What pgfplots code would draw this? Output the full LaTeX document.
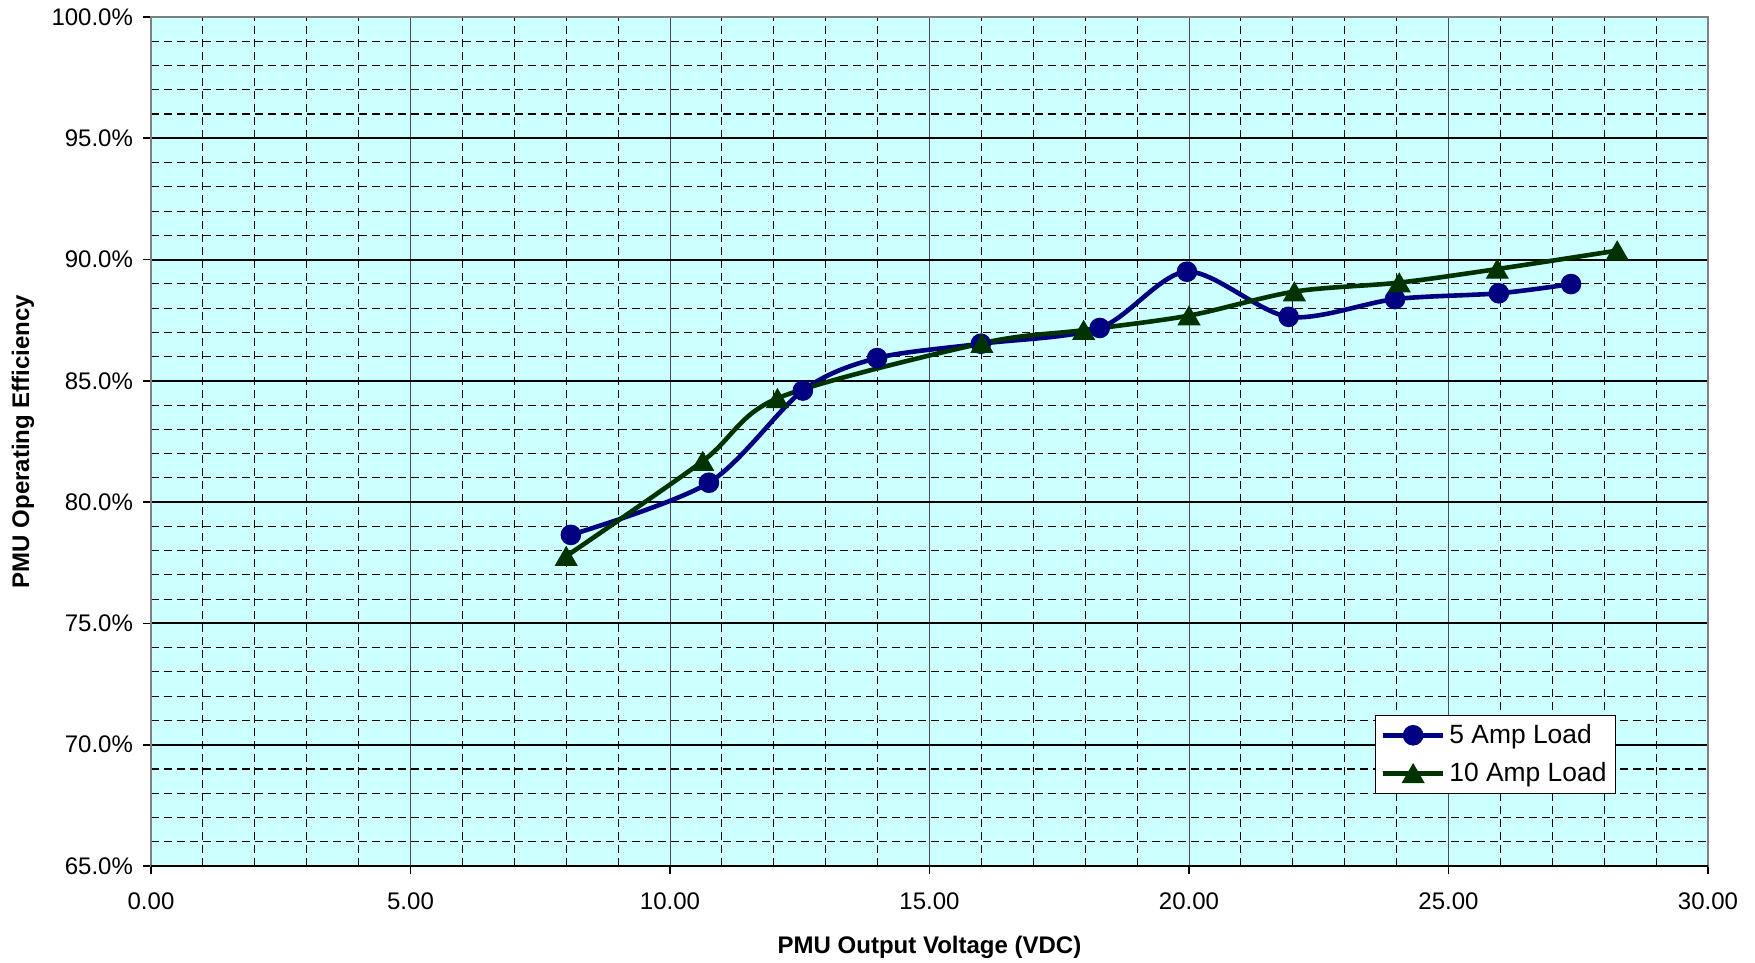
\documentclass[border=0pt]{standalone}
\usepackage{fontspec}
\setmainfont{Liberation Sans}
\usepackage{pgfplots}
\pgfplotsset{compat=1.18}

\definecolor{plotbg}{HTML}{CCFFFF}
\definecolor{fiveamp}{HTML}{000080}
\definecolor{tenamp}{HTML}{003300}
\definecolor{frame}{HTML}{808080}

\begin{document}
\begin{tikzpicture}
\useasboundingbox (-75.5pt,-48.5pt) rectangle (802pt,433pt);
\begin{axis}[
    at={(0,0)}, anchor=south west,
    scale only axis, width=778.5pt, height=424.5pt,
    xmin=0, xmax=30, ymin=65, ymax=100,
    xtick={0,5,...,30}, ytick={65,70,...,100},
    minor x tick num=4, minor y tick num=4,
    /pgf/number format/assume math mode=true,
    xticklabel={\pgfmathprintnumber[fixed,fixed zerofill,precision=2]{\tick}},
    yticklabel={\pgfmathprintnumber[fixed,fixed zerofill,precision=1]{\tick}\%},
    tick label style={font=\fontsize{12}{14}\selectfont},
    xticklabel style={yshift=-6pt},
    yticklabel style={xshift=-1.5pt},
    tick align=outside, xtick pos=bottom, ytick pos=left,
    major tick length=4pt, minor tick length=0pt,
    every tick/.style={black, line width=0.8pt},
    axis background/.style={fill=plotbg},
    axis line style={draw=frame, line width=1pt},
    grid=both,
    major x grid style={draw=black!70, line width=0.5pt},
    major y grid style={draw=black, line width=1pt},
    minor grid style={draw=black, line width=0.55pt, dash pattern=on 4pt off 2.5pt},
    xlabel={PMU Output Voltage (VDC)},
    ylabel={PMU Operating Efficiency},
    label style={font=\bfseries\fontsize{12}{14}\selectfont},
    xlabel style={at={(axis description cs:0.5,-0.0954)}, anchor=center},
    ylabel style={at={(axis description cs:-0.0822,0.5)}, anchor=center},
    legend style={at={(axis description cs:1,0)}, anchor=south east,
        xshift=-46pt, yshift=36pt, draw=black, line width=0.5pt, fill=white,
        font=\fontsize{13.2}{15}\selectfont, inner sep=2.5pt, row sep=4pt},
    legend cell align=left,
    legend image code/.code={
        \draw[#1, mark repeat=2, mark phase=2]
            plot coordinates {(0pt,0pt) (15pt,0pt) (30pt,0pt)};
    },
]
\addplot[fiveamp, line width=2.3pt, smooth, tension=0.5,
    mark=*, mark size=4.9pt, mark options={solid, fill=fiveamp, line width=0.5pt}]
    coordinates {
    (8.09,78.65) (10.75,80.80) (12.56,84.60) (13.99,85.94) (15.99,86.53)
    (18.28,87.18) (19.96,89.50) (21.92,87.64) (23.97,88.37) (25.97,88.61)
    (27.36,88.99)
};
\addlegendentry{5 Amp Load}
\addplot[tenamp, line width=2.3pt, smooth, tension=0.5,
    mark=triangle*, mark size=6.2pt, mark options={solid, fill=tenamp, line width=0.5pt, yshift=-1.5pt}]
    coordinates {
    (8.00,77.77) (10.63,81.69) (12.07,84.28) (16.01,86.55) (17.97,87.09)
    (20.00,87.69) (22.03,88.68) (24.05,89.05) (25.94,89.61) (28.25,90.37)
};
\addlegendentry{10 Amp Load}
\draw[black, line width=1pt] (rel axis cs:0,0) -- (rel axis cs:1,0);
\end{axis}
\end{tikzpicture}
\end{document}
